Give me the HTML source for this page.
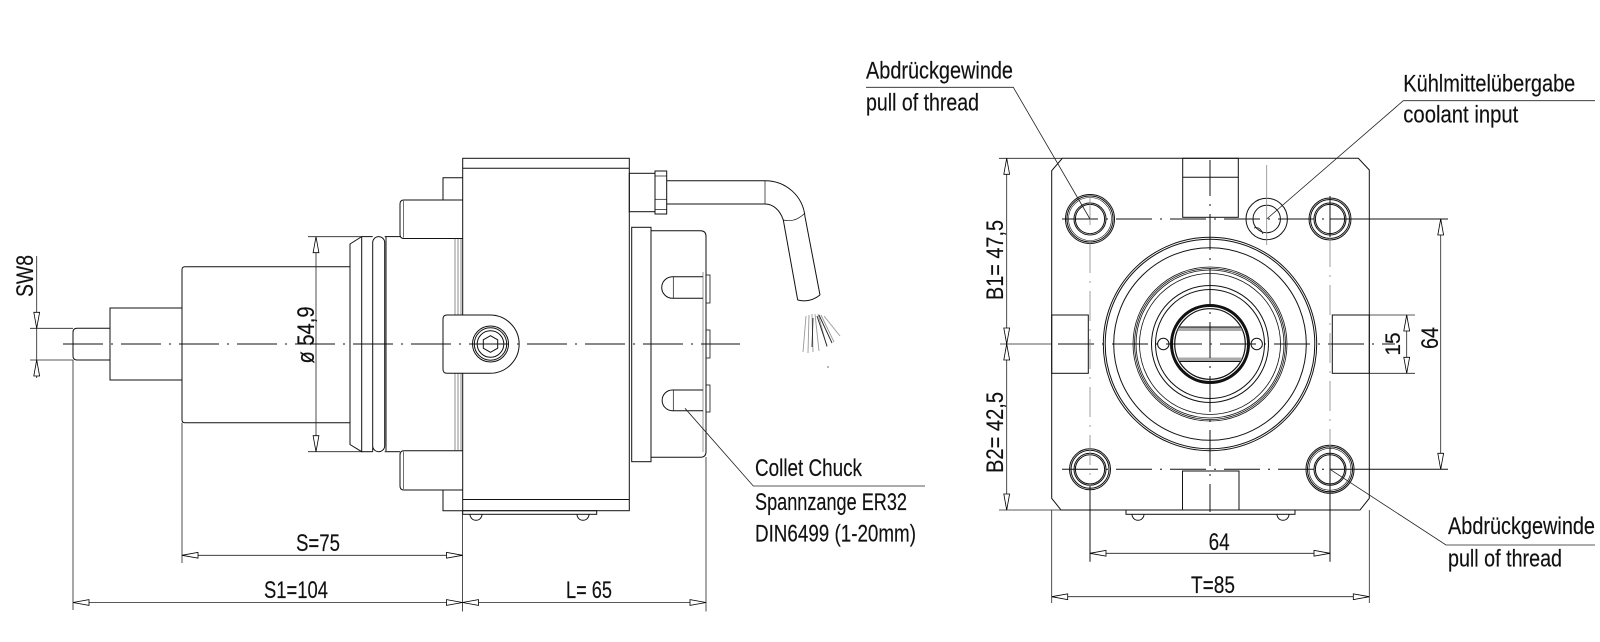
<!DOCTYPE html>
<html><head><meta charset="utf-8"><style>
html,body{margin:0;padding:0;background:#fff;}
svg{display:block;}
text{font-family:"Liberation Sans",sans-serif;font-size:24px;fill:#111;stroke:#111;stroke-width:0.15;}
</style></head><body>
<svg width="1600" height="642" viewBox="0 0 1600 642" xmlns="http://www.w3.org/2000/svg">
<defs>
<marker id="ar" markerUnits="userSpaceOnUse" markerWidth="18" markerHeight="8" refX="16" refY="3.5" orient="auto-start-reverse" overflow="visible"><path d="M16,3.5 L0,0.6 L0,6.4 Z" fill="#fff" stroke="#000" stroke-width="0.8"/></marker>
<clipPath id="bore"><circle cx="1210" cy="344" r="35"/></clipPath>
</defs>
<rect width="1600" height="642" fill="#fff"/>

<!-- ================= LEFT SIDE VIEW ================= -->
<g fill="none" stroke="#111" stroke-width="1">
  <path d="M77,328.3 L110,328.3 L110,360 L77,360 Q73,360 73,356 L73,332.3 Q73,328.3 77,328.3 Z"/>
  <rect x="110" y="308" width="72" height="72"/>
  <path d="M185,266.7 L350,266.7 M350,422.7 L185,422.7 Q182,422.7 182,419.7 L182,269.7 Q182,266.7 185,266.7"/>
  <path d="M350,244 L361.7,236.6 L361.7,451.7 L350,444.5 Z"/>
  <line x1="361.7" y1="236.6" x2="372.7" y2="236.6"/>
  <line x1="361.7" y1="451.7" x2="372.7" y2="451.7"/>
  <path d="M372.7,451.7 L372.7,242.6 A6,6 0 0 1 384.7,242.6 L384.7,445.7 A6,6 0 0 1 372.7,445.7"/>
  <line x1="384.7" y1="236.6" x2="400" y2="236.6"/>
  <line x1="384.7" y1="451.7" x2="400" y2="451.7"/>
  <line x1="386" y1="237" x2="386" y2="451"/>
  <path d="M462.7,200 L404,200 Q400,200 400,204 L400,234.5 Q400,238.5 404,238.5 L462.7,238.5"/>
  <line x1="403.5" y1="201" x2="403.5" y2="237.5" stroke-width="0.6"/>
  <path d="M462.7,450.7 L404,450.7 Q400,450.7 400,454.7 L400,486 Q400,490 404,490 L462.7,490"/>
  <line x1="403.5" y1="451.7" x2="403.5" y2="489" stroke-width="0.6"/>
  <path d="M443,200 L443,177.7 L462.7,177.7"/>
  <path d="M443,490 L443,510.7 L462.7,510.7"/>
  <g stroke-width="0.6" stroke="#444">
    <line x1="455" y1="238.5" x2="455" y2="315"/><line x1="458" y1="238.5" x2="458" y2="315"/><line x1="461" y1="238.5" x2="461" y2="315"/>
    <line x1="455" y1="373" x2="455" y2="450.7"/><line x1="458" y1="373" x2="458" y2="450.7"/><line x1="461" y1="373" x2="461" y2="450.7"/>
  </g>
  <rect x="462.7" y="158.3" width="166.6" height="352.4"/>
  <line x1="462.7" y1="168.3" x2="629.3" y2="168.3"/>
  <line x1="462.7" y1="499.5" x2="629.3" y2="499.5"/>
  <rect x="462.7" y="510.7" width="134" height="3.6"/>
  <path d="M470,514.3 A6,6 0 0 0 482,514.3"/>
  <path d="M577,514.3 A6,6 0 0 0 589,514.3"/>
  <path d="M490,315 L447,315 Q443,315 443,319 L443,369.3 Q443,373.3 447,373.3 L490,373.3 A29.15,29.15 0 0 0 490,315 Z" fill="#fff"/>
  <circle cx="490.5" cy="344" r="18"/>
  <circle cx="490.5" cy="344" r="16.2"/>
  <circle cx="490.5" cy="344" r="13.3"/>
  <polygon points="490.5,335.7 497.7,339.8 497.7,348.2 490.5,352.3 483.3,348.2 483.3,339.8"/>
  <rect x="631.7" y="227.3" width="19.3" height="234.4"/>
  <path d="M651,230.7 L700.5,230.7 Q706,230.7 706,236.2 L706,451.8 Q706,457.3 700.5,457.3 L651,457.3"/>
  <line x1="703" y1="272" x2="703" y2="452" stroke-width="0.6" stroke="#555"/>
  <rect x="706" y="275" width="4" height="28" stroke-width="0.8"/>
  <rect x="706" y="330" width="4" height="28" stroke-width="0.8"/>
  <rect x="706" y="385" width="4" height="27" stroke-width="0.8"/>
  <path d="M703,276.7 L672.5,276.7 A10.8,10.8 0 0 0 672.5,298.3 L703,298.3"/>
  <line x1="673.3" y1="276.7" x2="673.3" y2="298.3" stroke-width="0.7"/>
  <path d="M703,390 L672.5,390 A10.35,10.35 0 0 0 672.5,410.7 L703,410.7"/>
  <line x1="673.3" y1="390" x2="673.3" y2="410.7" stroke-width="0.7"/>
  <rect x="629.3" y="173.3" width="25.7" height="38.4"/>
  <rect x="655" y="171" width="11.7" height="43"/>
  <line x1="655" y1="176" x2="666.7" y2="176" stroke-width="0.7"/>
  <line x1="655" y1="199.3" x2="666.7" y2="199.3" stroke-width="0.7"/>
  <line x1="655" y1="209.5" x2="666.7" y2="209.5" stroke-width="0.7"/>
  <line x1="666.7" y1="180.7" x2="765" y2="180.7"/>
  <line x1="666.7" y1="204" x2="765" y2="204"/>
  <line x1="765" y1="180.7" x2="765" y2="204" stroke-width="0.7"/>
  <path d="M765,180.7 C786,180.7 803,196 805,216.7 L820,295"/>
  <path d="M765,204 C773,204 780,210 783.3,220 L797.7,300"/>
  <path d="M797.7,300 Q810,303 820,295"/>
  <path d="M783.3,220 Q795,223 805,213" stroke-width="0.7"/>
</g>
<g stroke="#999" stroke-width="0.9" fill="none">
  <line x1="806" y1="316" x2="803" y2="352"/>
  <line x1="809" y1="315" x2="808" y2="353"/>
  <line x1="812" y1="314" x2="813" y2="352"/>
  <line x1="815" y1="314" x2="819" y2="351"/>
  <line x1="818" y1="314" x2="827" y2="347"/>
  <line x1="821" y1="315" x2="834" y2="342"/>
  <line x1="824" y1="316" x2="840" y2="336"/>
</g>
<g stroke="#222" stroke-width="0.9">
  <line x1="817" y1="316" x2="827" y2="346"/>
  <line x1="819" y1="315" x2="832" y2="343"/>
  <line x1="813" y1="318" x2="812" y2="347"/>
</g>
<circle cx="828" cy="367" r="0.8" fill="#666"/>

<line x1="63" y1="344" x2="740" y2="344" stroke="#111" stroke-width="1" stroke-dasharray="40 8 2 8"/>

<g stroke="#222" stroke-width="0.8" fill="none">
  <line x1="36.7" y1="256" x2="36.7" y2="378"/>
  <line x1="30" y1="328.3" x2="73" y2="328.3"/>
  <line x1="30" y1="360" x2="73" y2="360"/>
  <line x1="73" y1="360" x2="73" y2="610"/>
  <line x1="308" y1="236.7" x2="361.7" y2="236.7"/>
  <line x1="308" y1="451.7" x2="361.7" y2="451.7"/>
  <line x1="316" y1="236.7" x2="316" y2="451.7" marker-start="url(#ar)" marker-end="url(#ar)"/>
  <line x1="182" y1="422.7" x2="182" y2="563"/>
  <line x1="462.5" y1="511" x2="462.5" y2="611.5"/>
  <line x1="706" y1="457" x2="706" y2="611.5"/>
  <line x1="182" y1="555.3" x2="462.5" y2="555.3" marker-start="url(#ar)" marker-end="url(#ar)"/>
  <line x1="73" y1="602.5" x2="462.5" y2="602.5" marker-start="url(#ar)" marker-end="url(#ar)"/>
  <line x1="462.5" y1="602.5" x2="706" y2="602.5" marker-start="url(#ar)" marker-end="url(#ar)"/>
  <polyline points="685,408.3 753.3,486 925,486"/>
</g>
<path d="M36.7,328.3 L33.8,312.3 L39.6,312.3 Z" fill="#fff" stroke="#000" stroke-width="0.8"/>
<path d="M36.7,360 L33.8,376 L39.6,376 Z" fill="#fff" stroke="#000" stroke-width="0.8"/>

<text transform="translate(33,276) rotate(-90)" text-anchor="middle" textLength="42" lengthAdjust="spacingAndGlyphs">SW8</text>
<text transform="translate(314,335) rotate(-90)" text-anchor="middle" textLength="57" lengthAdjust="spacingAndGlyphs">ø 54,9</text>
<text x="296" y="551" textLength="44" lengthAdjust="spacingAndGlyphs">S=75</text>
<text x="264" y="598" textLength="64" lengthAdjust="spacingAndGlyphs">S1=104</text>
<text x="566" y="598" textLength="46" lengthAdjust="spacingAndGlyphs">L= 65</text>
<text x="755" y="476" textLength="107" lengthAdjust="spacingAndGlyphs">Collet Chuck</text>
<text x="755" y="510" textLength="152" lengthAdjust="spacingAndGlyphs">Spannzange ER32</text>
<text x="755" y="541.7" textLength="161" lengthAdjust="spacingAndGlyphs">DIN6499 (1-20mm)</text>

<!-- ================= FRONT VIEW ================= -->
<g fill="none" stroke="#111" stroke-width="1">
  <path d="M1062.3,158.3 L1358.3,158.3 L1369.3,170 L1369.3,498.3 L1360,510 L1061,510 L1051.7,498.3 L1051.7,170.7 Z"/>
  <rect x="1182.7" y="158.3" width="55.6" height="59"/>
  <line x1="1182.7" y1="177.3" x2="1238.3" y2="177.3"/>
  <rect x="1182.5" y="471" width="56.5" height="39"/>
  <rect x="1051.7" y="315" width="36.6" height="58.3"/>
  <rect x="1332.3" y="315" width="37" height="58.3"/>
  <rect x="1126" y="510" width="169" height="4.3"/>
  <path d="M1132,514.3 A6,6 0 0 0 1144,514.3"/>
  <path d="M1277,514.3 A6,6 0 0 0 1289,514.3"/>
  <circle cx="1210" cy="344" r="106.7" fill="#fff"/>
  <circle cx="1210" cy="344" r="104.8"/>
  <circle cx="1210" cy="344" r="96.3"/>
  <circle cx="1210" cy="344" r="77" stroke-width="0.8"/>
  <circle cx="1210" cy="344" r="75.5" stroke-width="0.8"/>
  <circle cx="1210" cy="344" r="74" stroke-width="0.8"/>
  <circle cx="1210" cy="344" r="70.5" stroke-width="0.8"/>
  <circle cx="1210" cy="344" r="58.5"/>
  <circle cx="1210" cy="344" r="54.5"/>
  <circle cx="1210" cy="344" r="38.5" stroke-width="3"/>
  <circle cx="1210" cy="344" r="35.3" stroke-width="1.2"/>
  <circle cx="1163.3" cy="344" r="5.7"/>
  <circle cx="1256.7" cy="344" r="5.7"/>
  <circle cx="1090" cy="219" r="24.5"/><circle cx="1090" cy="219" r="23"/><circle cx="1090" cy="219" r="21.5" stroke-width="0.6"/>
  <circle cx="1090" cy="219" r="16"/><circle cx="1090" cy="219" r="14.6"/>
  <circle cx="1266.7" cy="219" r="20.7"/><circle cx="1266.7" cy="219" r="13.7"/>
  <path d="M1254,228 Q1260,226 1263,234" stroke-width="0.8"/>
  <circle cx="1330" cy="219" r="21"/><circle cx="1330" cy="219" r="19.5"/>
  <circle cx="1330" cy="219" r="16"/><circle cx="1330" cy="219" r="14.6"/>
  <circle cx="1090" cy="469.3" r="20.5"/><circle cx="1090" cy="469.3" r="19"/>
  <circle cx="1090" cy="469.3" r="16"/><circle cx="1090" cy="469.3" r="14.6"/>
  <circle cx="1330" cy="469.3" r="24"/><circle cx="1330" cy="469.3" r="22.5"/><circle cx="1330" cy="469.3" r="21" stroke-width="0.6"/>
  <circle cx="1330" cy="469.3" r="16"/><circle cx="1330" cy="469.3" r="14.6"/>
</g>
<g clip-path="url(#bore)">
  <rect x="1170" y="327" width="80" height="4" fill="#aaa"/>
  <rect x="1170" y="357.5" width="80" height="4" fill="#aaa"/>
  <line x1="1170" y1="327" x2="1250" y2="327" stroke="#111" stroke-width="1"/>
  <line x1="1170" y1="361.5" x2="1250" y2="361.5" stroke="#111" stroke-width="1"/>
</g>
<g stroke="#111" stroke-width="1" fill="none">
  <line x1="1058" y1="344" x2="1395" y2="344" stroke-dasharray="36 8 2 8"/>
  <line x1="1210" y1="160" x2="1210" y2="512" stroke-dasharray="36 8 2 8"/>
  <line x1="1062" y1="219" x2="1330" y2="219" stroke-dasharray="36 8 2 8"/>
  <line x1="1062" y1="469.3" x2="1330" y2="469.3" stroke-dasharray="36 8 2 8"/>
  <line x1="1330" y1="219" x2="1448" y2="219"/>
  <line x1="1330" y1="469.3" x2="1448" y2="469.3"/>
</g>
<g stroke="#888" stroke-width="0.8" fill="none">
  <line x1="1090" y1="195" x2="1090" y2="486" stroke-dasharray="30 8 2 8"/>
  <line x1="1330" y1="237" x2="1330" y2="447" stroke-dasharray="30 8 2 8"/>
  <line x1="1266.7" y1="165" x2="1266.7" y2="245"/>
</g>
<g stroke="#111" stroke-width="1">
  <line x1="1330" y1="196" x2="1330" y2="237"/>
  <line x1="1330" y1="447" x2="1330" y2="561.7"/>
  <line x1="1090" y1="486" x2="1090" y2="561.7"/>
</g>

<g stroke="#222" stroke-width="0.8" fill="none">
  <line x1="999" y1="158.3" x2="1062.3" y2="158.3"/>
  <line x1="999" y1="510" x2="1061" y2="510"/>
  <line x1="1000" y1="344" x2="1051.7" y2="344"/>
  <line x1="1006.7" y1="158.3" x2="1006.7" y2="344" marker-start="url(#ar)" marker-end="url(#ar)"/>
  <line x1="1006.7" y1="344" x2="1006.7" y2="510" marker-start="url(#ar)" marker-end="url(#ar)"/>
  <line x1="1369.3" y1="315" x2="1415" y2="315"/>
  <line x1="1369.3" y1="373.3" x2="1415" y2="373.3"/>
  <line x1="1406.7" y1="315" x2="1406.7" y2="373.3" marker-start="url(#ar)" marker-end="url(#ar)"/>
  <line x1="1440.7" y1="219" x2="1440.7" y2="469.3" marker-start="url(#ar)" marker-end="url(#ar)"/>
  <line x1="1090" y1="553.3" x2="1330" y2="553.3" marker-start="url(#ar)" marker-end="url(#ar)"/>
  <line x1="1051.7" y1="510" x2="1051.7" y2="603"/>
  <line x1="1369.3" y1="510" x2="1369.3" y2="603"/>
  <line x1="1051.7" y1="596.7" x2="1369.3" y2="596.7" marker-start="url(#ar)" marker-end="url(#ar)"/>
  <polyline points="866,87.3 1013.3,87.3 1090,219"/>
  <polyline points="1595,100.7 1403.3,100.7 1266.7,219"/>
  <polyline points="1330,469.3 1446,545 1595,545"/>
</g>

<text x="866" y="78.3" textLength="147" lengthAdjust="spacingAndGlyphs">Abdrückgewinde</text>
<text x="866" y="110.7" textLength="113" lengthAdjust="spacingAndGlyphs">pull of thread</text>
<text x="1403.3" y="91.7" textLength="172" lengthAdjust="spacingAndGlyphs">Kühlmittelübergabe</text>
<text x="1403.3" y="122.7" textLength="115" lengthAdjust="spacingAndGlyphs">coolant input</text>
<text transform="translate(1003,260) rotate(-90)" text-anchor="middle" textLength="80" lengthAdjust="spacingAndGlyphs">B1= 47,5</text>
<text transform="translate(1003,432.5) rotate(-90)" text-anchor="middle" textLength="81" lengthAdjust="spacingAndGlyphs">B2= 42,5</text>
<text transform="translate(1400,344) rotate(-90)" text-anchor="middle" style="font-size:21px">15</text>
<text transform="translate(1438,338) rotate(-90)" text-anchor="middle" textLength="22" lengthAdjust="spacingAndGlyphs">64</text>
<text x="1208.6" y="550" textLength="21" lengthAdjust="spacingAndGlyphs">64</text>
<text x="1191" y="593" textLength="44" lengthAdjust="spacingAndGlyphs">T=85</text>
<text x="1448" y="534" textLength="147" lengthAdjust="spacingAndGlyphs">Abdrückgewinde</text>
<text x="1448" y="566.7" textLength="114" lengthAdjust="spacingAndGlyphs">pull of thread</text>
</svg>
</body></html>
